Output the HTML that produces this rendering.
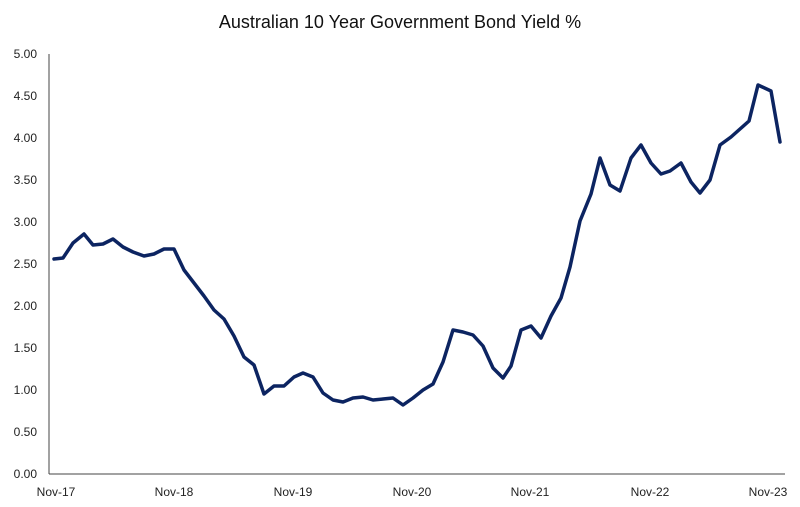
<!DOCTYPE html>
<html><head><meta charset="utf-8"><style>
body{margin:0;background:#fff;}
svg{display:block;font-family:"Liberation Sans",sans-serif;}
</style></head><body>
<svg width="800" height="507" viewBox="0 0 800 507" xmlns="http://www.w3.org/2000/svg">
<rect width="800" height="507" fill="#fff"/>
<text x="400" y="28" text-anchor="middle" font-size="18" fill="#111">Australian 10 Year Government Bond Yield %</text>
<g font-size="12" fill="#222" text-anchor="end">
<text x="37" y="58">5.00</text><text x="37" y="100">4.50</text><text x="37" y="142">4.00</text>
<text x="37" y="184">3.50</text><text x="37" y="226">3.00</text><text x="37" y="268">2.50</text>
<text x="37" y="310">2.00</text><text x="37" y="352">1.50</text><text x="37" y="394">1.00</text>
<text x="37" y="436">0.50</text><text x="37" y="478">0.00</text>
</g>
<g font-size="12" fill="#222" text-anchor="middle">
<text x="56" y="496">Nov-17</text><text x="174" y="496">Nov-18</text><text x="293" y="496">Nov-19</text>
<text x="412" y="496">Nov-20</text><text x="530" y="496">Nov-21</text><text x="650" y="496">Nov-22</text>
<text x="768" y="496">Nov-23</text>
</g>
<line x1="49" y1="54" x2="49" y2="474" stroke="#444" stroke-width="1"/>
<line x1="49" y1="474" x2="785" y2="474" stroke="#444" stroke-width="1"/>
<polyline fill="none" stroke="#0c2461" stroke-width="3.5" stroke-linejoin="round" stroke-linecap="round" points="54,259 63,258 73,243 84,234 93,245 103,244 113,239 123,247 133,252 144,256 154,254 164,249 174,249 184,270 194,283 204,296 214,310 224,319 234,336 244,357 254,365 264,394 274,386 284,386 294,377 303,373 313,377 323,393 333,400 343,402 353,398 363,397 373,400 383,399 393,398 403,405 413,398 423,390 433,384 443,362 453,330 463,332 473,335 483,346 493,368 503,378 511,366 521,330 531,326 541,338 551,316 561,298 570,267 580,221 591,194 600,158 610,185 620,191 631,158 641,145 651,163 661,174 670,171 681,163 691,182 700,193 710,180 720,145 731,137 740,129 749,121 758,85 771,91 780,142"/>
</svg>
</body></html>
